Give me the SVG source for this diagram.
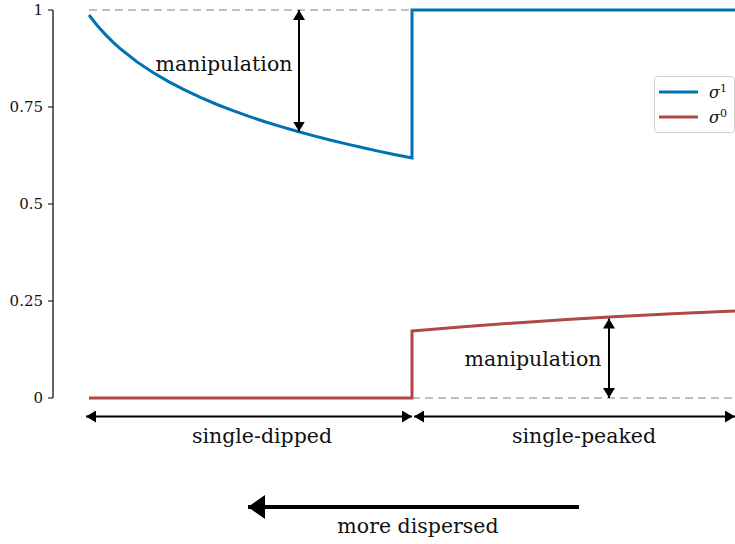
<svg xmlns="http://www.w3.org/2000/svg" width="735" height="544" viewBox="0 0 735 544">
<defs>
<marker id="ah" viewBox="0 0 10 12" refX="10" refY="6" markerWidth="10" markerHeight="12" markerUnits="userSpaceOnUse" orient="auto-start-reverse">
<path d="M0,0 L10,6 L0,12 z" fill="#000"/>
</marker>
<marker id="big" viewBox="0 0 17 24" refX="17" refY="12" markerWidth="17" markerHeight="24" markerUnits="userSpaceOnUse" orient="auto">
<path d="M0,0 L17,12 L0,24 z" fill="#000"/>
</marker>
</defs>
<style>
text{font-family:"DejaVu Serif","Liberation Serif",serif;fill:#111}
.tick{font-size:15px;text-anchor:end}
.lab{font-size:20.5px;text-anchor:middle}
.leg{font-size:16px;font-style:italic}
.sup{font-size:11px;font-style:normal}
.ax{stroke:#000;stroke-width:1.2;fill:none}
.dash{stroke:#c0c0c0;stroke-width:2;stroke-dasharray:8,5;fill:none}
.blue{stroke:#0072b2;stroke-width:3;fill:none;stroke-linejoin:miter}
.red{stroke:#b04846;stroke-width:3;fill:none;stroke-linejoin:miter}
.arr{stroke:#000;stroke-width:2;fill:none}
</style>
<rect width="735" height="544" fill="#fff"/>
<g id="axis">
<path class="ax" d="M53,10 V398 M48,10 H53 M48,107 H53 M48,204 H53 M48,301 H53 M48,398 H53"/>
<text class="tick" x="43" y="15">1</text>
<text class="tick" x="43" y="112">0.75</text>
<text class="tick" x="43" y="209">0.5</text>
<text class="tick" x="43" y="306">0.25</text>
<text class="tick" x="43" y="403">0</text>
</g>
<g id="guides">
<path class="dash" d="M89,10 H412"/>
<path class="dash" d="M412,398 H735"/>
</g>
<g id="sigma1">
<path class="blue" d="M89,15 L97,25.2 L105,34.1 L113,42.1 L121,49.3 L137,61.9 L153,72.6 L169,81.9 L185,90.2 L201,97.7 L217,104.5 L233,110.7 L249,116.4 L265,121.7 L281,126.6 L297,131.3 L313,135.6 L329,139.7 L345,143.6 L361,147.3 L377,150.9 L393,154.2 L412,158 L412,10 L735,10"/>
</g>
<g id="sigma0">
<path class="red" d="M89,398 H412 V331 Q560,318 735,311"/>
</g>
<g id="connectors">
<line class="arr" x1="299" y1="10" x2="299" y2="131.5" marker-start="url(#ah)" marker-end="url(#ah)"/>
<line class="arr" x1="609" y1="318.5" x2="609" y2="398" marker-start="url(#ah)" marker-end="url(#ah)"/>
<line class="arr" x1="86" y1="416.5" x2="412" y2="416.5" marker-start="url(#ah)" marker-end="url(#ah)"/>
<line class="arr" x1="414" y1="416.5" x2="735" y2="416.5" marker-start="url(#ah)" marker-end="url(#ah)"/>
<line x1="579" y1="507" x2="248" y2="507" stroke="#000" stroke-width="4" marker-end="url(#big)"/>
</g>
<g id="labels">
<text class="lab" x="224" y="71">manipulation</text>
<text class="lab" x="533" y="366">manipulation</text>
<text class="lab" x="262" y="443">single-dipped</text>
<text class="lab" x="584" y="443">single-peaked</text>
<text class="lab" x="418" y="533">more dispersed</text>
</g>
<g id="legend">
<rect x="654.5" y="76.5" width="80" height="56" rx="3" fill="#fff" fill-opacity="0.8" stroke="#d0d0d0" stroke-width="1"/>
<line x1="659" y1="92" x2="698" y2="92" class="blue"/>
<line x1="659" y1="117" x2="698" y2="117" class="red"/>
<text class="leg" x="709" y="98">σ<tspan class="sup" dy="-6">1</tspan></text>
<text class="leg" x="709" y="123">σ<tspan class="sup" dy="-6">0</tspan></text>
</g>
</svg>
